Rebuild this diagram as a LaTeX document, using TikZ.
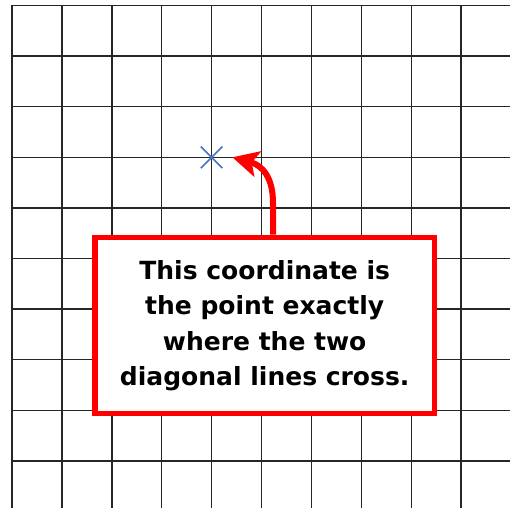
\documentclass[tikz,border=0pt]{standalone}
\usepackage{fontspec}
\setmainfont{DejaVu Sans}
\usetikzlibrary{shapes.misc,arrows.meta}
\definecolor{callred}{RGB}{255,0,0}
\definecolor{crossblue}{RGB}{68,114,196}
\begin{document}
\begin{tikzpicture}[x=0.5pt,y=-0.5pt,
  gridline/.style={black!85,line width=0.7pt},
  callout/.style={draw=callred,line width=2.8pt,fill=white,minimum width=169.75pt,minimum height=88pt,inner sep=0pt,align=center,font=\bfseries\fontsize{12.5}{17.75}\selectfont},
  crossmark/.style={draw=crossblue,cross out,line width=0.8pt,minimum size=10pt,inner sep=0pt},
  callarrow/.style={draw=callred,line width=3pt,-{Stealth[length=13pt,width=13pt,inset=3pt]}}]
\useasboundingbox (0,0) rectangle (510,508);
\begin{scope}
  \clip (0,0) rectangle (510,508);
  \foreach \i in {0,...,10} \draw[gridline] ({12+49.9*\i},5.5) -- ({12+49.9*\i},520);
  \foreach \j in {0,...,10} \draw[gridline] (12,{5.5+50.6*\j}) -- (520,{5.5+50.6*\j});
\end{scope}
\node[crossmark] (target) at (211.6,157.3) {};
\node[callout] (box) at (264.7,325.5) {This coordinate is\\the point exactly\\where the two\\diagonal lines cross.};
\draw[callarrow] ([xshift=4.15pt]box.north) -- ++(0,-32) .. controls +(0,-25) and +(30,8) .. ([xshift=5pt]target.east);
\end{tikzpicture}
\end{document}
